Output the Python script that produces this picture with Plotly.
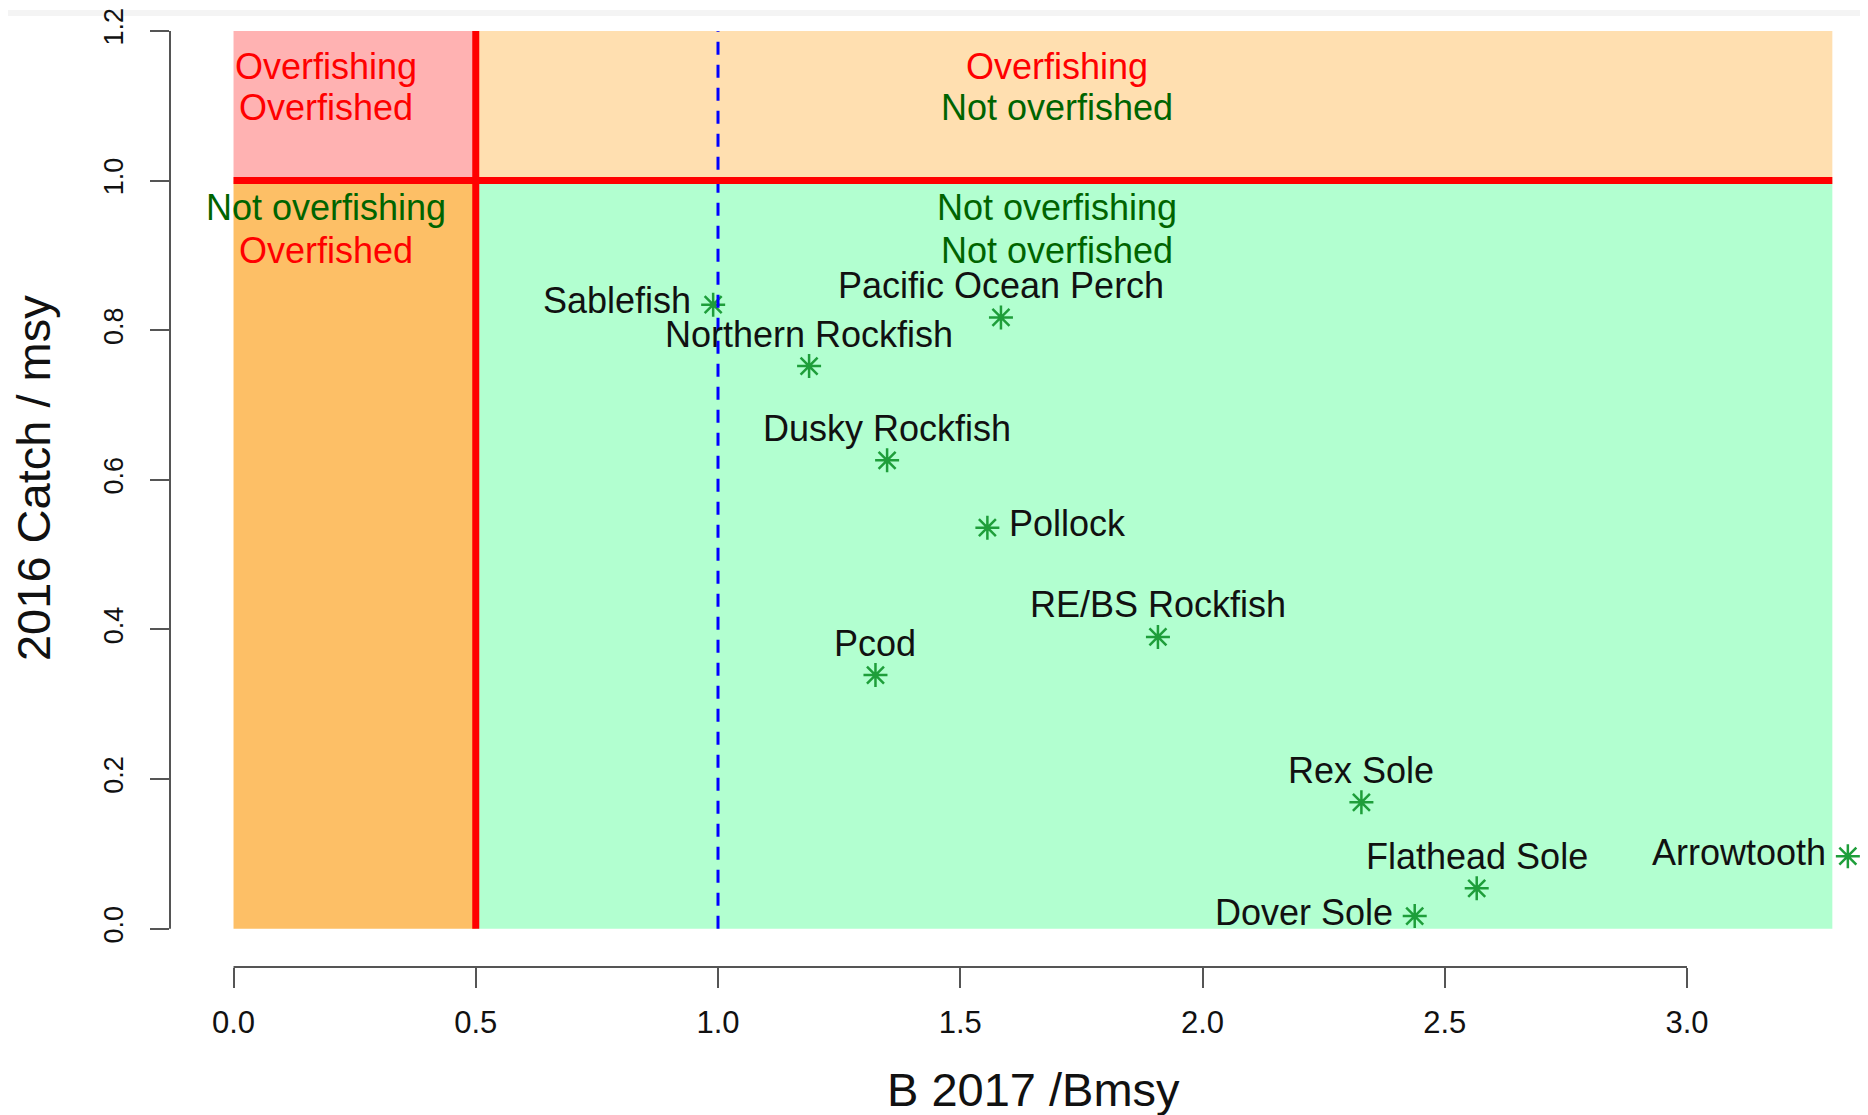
import plotly.graph_objects as go

# ---------------- data ----------------
species = ["Sablefish", "Pacific Ocean Perch", "Northern Rockfish", "Dusky Rockfish",
           "Pollock", "RE/BS Rockfish", "Pcod", "Rex Sole", "Flathead Sole",
           "Dover Sole", "Arrowtooth"]
b_ratio = [0.990, 1.584, 1.188, 1.349, 1.556, 1.908, 1.325, 2.328, 2.566, 2.438, 3.332]
catch_ratio = [0.834, 0.817, 0.752, 0.626, 0.536, 0.390, 0.339, 0.169, 0.054, 0.017, 0.097]
label_side = ["left", "above", "above", "above", "right", "above", "above",
              "above", "above", "left", "left"]

x_ticks = [0.0, 0.5, 1.0, 1.5, 2.0, 2.5, 3.0]
x_tick_text = ["0.0", "0.5", "1.0", "1.5", "2.0", "2.5", "3.0"]
y_ticks = [0.0, 0.2, 0.4, 0.6, 0.8, 1.0, 1.2]
y_tick_text = ["0.0", "0.2", "0.4", "0.6", "0.8", "1.0", "1.2"]

b_limit = 0.5      # overfished threshold
b_target = 1.0     # Bmsy
c_limit = 1.0      # overfishing threshold
x_max = 3.3
y_max = 1.2

quad_lines = ["Overfishing", "Overfished", "Overfishing", "Not overfished",
              "Not overfishing", "Overfished", "Not overfishing", "Not overfished"]
quad_x = [0.19, 0.19, 1.70, 1.70, 0.19, 0.19, 1.70, 1.70]
quad_y = [1.152, 1.097, 1.152, 1.097, 0.964, 0.907, 0.964, 0.907]
quad_colors = ["#FF0000", "#FF0000", "#FF0000", "#006400",
               "#006400", "#FF0000", "#006400", "#006400"]

# ---------------- layout geometry ----------------
# the page adds an 8px body margin, so the figure is 8px smaller
W, H = 1860, 1107
ml, mr, mt, mb = 162, 0, 0, 148
PW, PH = W - ml - mr, H - mt - mb
x_range = [-0.1311, 3.3736]
y_range = [-0.0511, 1.2279]

FONT = "Liberation Sans, Arial, Helvetica, sans-serif"

fig = go.Figure()

# quadrant backgrounds
rects = [
    (0, b_limit, 0, c_limit, "#FDBF66"),
    (b_limit, x_max, 0, c_limit, "#B2FFD0"),
    (0, b_limit, c_limit, y_max, "#FFB2B2"),
    (b_limit, x_max, c_limit, y_max, "#FFDFB0"),
]
for x0, x1, y0, y1, col in rects:
    fig.add_shape(type="rect", xref="x", yref="y", x0=x0, x1=x1, y0=y0, y1=y1,
                  fillcolor=col, line=dict(width=0), layer="below")

# reference lines
fig.add_shape(type="line", xref="x", yref="y", x0=b_target, x1=b_target, y0=0, y1=y_max,
              line=dict(color="#0000FF", width=3, dash="13px,10px"))
fig.add_shape(type="line", xref="x", yref="y", x0=b_limit, x1=b_limit, y0=0, y1=y_max,
              line=dict(color="#FF0000", width=7))
fig.add_shape(type="line", xref="x", yref="y", x0=0, x1=x_max, y0=c_limit, y1=c_limit,
              line=dict(color="#FF0000", width=7))

# R-style detached axis lines
fig.add_shape(type="line", xref="x", yref="paper", x0=min(x_ticks), x1=max(x_ticks),
              y0=0, y1=0, line=dict(color="#555555", width=2))
fig.add_shape(type="line", xref="paper", yref="y", x0=0, x1=0,
              y0=min(y_ticks), y1=max(y_ticks), line=dict(color="#555555", width=2))

# thin grey band at very top (screenshot chrome)
fig.add_shape(type="rect", xref="paper", yref="paper", x0=-ml / PW, x1=1,
              y0=1 - 6 / PH, y1=1, fillcolor="#F4F4F4", line=dict(width=0),
              layer="below")

# points
fig.add_trace(go.Scatter(
    x=b_ratio, y=catch_ratio, mode="markers",
    marker=dict(symbol="asterisk-open", size=20, color="#1E9E3A",
                line=dict(color="#1E9E3A", width=2.5)),
    hoverinfo="text", text=species, showlegend=False, cliponaxis=False))

# point labels
for name, xv, yv, side in zip(species, b_ratio, catch_ratio, label_side):
    if side == "above":
        kw = dict(xanchor="center", yanchor="middle", xshift=0, yshift=32)
    elif side == "left":
        kw = dict(xanchor="right", yanchor="middle", xshift=-20, yshift=4)
    else:
        kw = dict(xanchor="left", yanchor="middle", xshift=20, yshift=4)
    fig.add_annotation(x=xv, y=yv, xref="x", yref="y", text=name, showarrow=False,
                       font=dict(family=FONT, size=36, color="#111111"), **kw)

# quadrant labels
for t, xv, yv, c in zip(quad_lines, quad_x, quad_y, quad_colors):
    fig.add_annotation(x=xv, y=yv, xref="x", yref="y", text=t, showarrow=False,
                       xanchor="center", yanchor="middle",
                       font=dict(family=FONT, size=36, color=c))

# axis titles
fig.add_annotation(x=1.652, xref="x", y=-(1082 - (H - mb)) / PH, yref="paper",
                   text="B 2017 /Bmsy", showarrow=False, xanchor="center", yanchor="middle",
                   font=dict(family=FONT, size=47, color="#111111"))
fig.add_annotation(x=(25 - ml) / PW, xref="paper", y=0.6024, yref="y",
                   text="2016 Catch / msy", showarrow=False, textangle=-90,
                   xanchor="center", yanchor="middle",
                   font=dict(family=FONT, size=47, color="#111111"))

fig.update_layout(
    width=W, height=H,
    margin=dict(l=ml, r=mr, t=mt, b=mb, pad=0),
    paper_bgcolor="white", plot_bgcolor="white",
    xaxis=dict(range=x_range, showgrid=False, zeroline=False, showline=False,
               tickmode="array", tickvals=x_ticks, ticktext=x_tick_text,
               ticks="outside", ticklen=20, tickwidth=2, tickcolor="#555555",
               tickfont=dict(family=FONT, size=31, color="#111111"),
               ticklabelstandoff=8, ticklabeloverflow="allow", fixedrange=True),
    yaxis=dict(range=y_range, showgrid=False, zeroline=False, showline=False,
               tickmode="array", tickvals=y_ticks, ticktext=y_tick_text,
               ticks="outside", ticklen=19, tickwidth=2, tickcolor="#555555",
               tickangle=-90,
               tickfont=dict(family=FONT, size=27, color="#111111"),
               ticklabelstandoff=16, ticklabeloverflow="allow", fixedrange=True),
    showlegend=False,
)

fig.write_html("out.html")
